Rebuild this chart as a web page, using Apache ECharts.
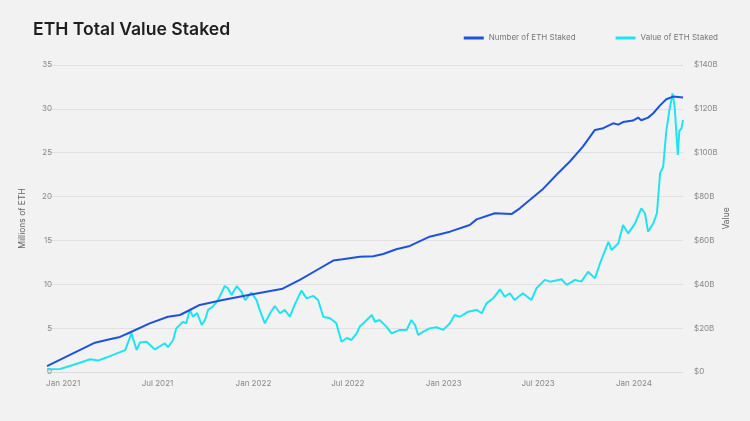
<!DOCTYPE html>
<html>
<head>
<meta charset="utf-8">
<script src="https://cdn.jsdelivr.net/npm/echarts@6/dist/echarts.min.js"></script>
<style>
html,body{margin:0;padding:0;background:#f2f2f2;}
#chart{width:750px;height:421px;}
</style>
</head>
<body>
<div id="chart"></div>
<script>
// Number of ETH staked (millions)
const stakedDates = ['2020-12-01','2021-03-03','2021-03-25','2021-04-20','2021-05-09','2021-06-16','2021-07-21','2021-08-13','2021-09-01','2021-09-20','2021-11-03','2021-12-25','2022-02-26','2022-03-31','2022-05-02','2022-06-03','2022-06-21','2022-07-24','2022-08-19','2022-09-07','2022-10-02','2022-10-28','2022-12-05','2023-01-13','2023-02-20','2023-03-05','2023-04-09','2023-05-11','2023-05-27','2023-06-15','2023-07-11','2023-08-05','2023-08-31','2023-09-25','2023-10-18','2023-11-03','2023-11-22','2023-12-02','2023-12-11','2023-12-30','2024-01-09','2024-01-15','2024-01-28','2024-02-07','2024-02-20','2024-03-03','2024-03-16','2024-04-04'];
const stakedValues = [0.68,3.34,3.65,4.0,4.5,5.55,6.3,6.5,7.07,7.65,8.2,8.8,9.5,10.5,11.6,12.7,12.85,13.15,13.2,13.45,14.0,14.37,15.43,16.0,16.76,17.4,18.1,18.0,18.66,19.6,20.9,22.46,24.0,25.7,27.6,27.8,28.35,28.2,28.5,28.66,29.0,28.7,29.0,29.5,30.4,31.1,31.4,31.3];

// Value of ETH staked (billions USD)
const valueDates = ['2020-12-01','2020-12-26','2021-01-20','2021-02-22','2021-03-09','2021-03-26','2021-04-14','2021-04-30','2021-05-12','2021-05-22','2021-05-28','2021-06-10','2021-06-26','2021-07-15','2021-07-21','2021-07-31','2021-08-06','2021-08-19','2021-08-25','2021-09-01','2021-09-07','2021-09-15','2021-09-24','2021-09-30','2021-10-06','2021-10-15','2021-10-25','2021-11-07','2021-11-13','2021-11-20','2021-11-30','2021-12-09','2021-12-16','2021-12-28','2022-01-07','2022-01-13','2022-01-23','2022-02-02','2022-02-11','2022-02-21','2022-03-02','2022-03-12','2022-03-21','2022-04-03','2022-04-13','2022-04-26','2022-05-05','2022-05-15','2022-05-28','2022-06-09','2022-06-19','2022-06-29','2022-07-08','2022-07-18','2022-07-24','2022-08-03','2022-08-16','2022-08-22','2022-08-31','2022-09-13','2022-09-23','2022-10-09','2022-10-22','2022-10-31','2022-11-07','2022-11-13','2022-11-23','2022-12-05','2022-12-18','2022-12-31','2023-01-13','2023-01-22','2023-02-01','2023-02-17','2023-03-05','2023-03-15','2023-03-24','2023-04-06','2023-04-19','2023-04-28','2023-05-08','2023-05-17','2023-06-02','2023-06-18','2023-06-28','2023-07-14','2023-07-24','2023-08-15','2023-08-25','2023-09-10','2023-09-22','2023-10-05','2023-10-18','2023-10-28','2023-11-13','2023-11-19','2023-12-02','2023-12-11','2023-12-21','2024-01-03','2024-01-15','2024-01-22','2024-01-28','2024-02-07','2024-02-14','2024-02-20','2024-02-26','2024-03-03','2024-03-09','2024-03-15','2024-03-19','2024-03-22','2024-03-25','2024-03-28','2024-04-01','2024-04-04'];
const valueValues = [1.2,1.4,3.2,5.8,5.2,6.7,8.5,10.0,17.6,10.0,13.4,13.8,10.3,13.1,11.3,14.6,19.9,22.9,22.2,28.3,25.2,26.9,21.4,23.7,28.3,29.8,32.8,39.2,38.2,35.1,39.1,36.6,32.8,36.2,32.8,28.3,22.2,26.8,30.1,26.8,28.3,25.2,30.6,37.1,33.6,34.7,32.8,25.2,24.5,22.2,13.8,15.5,14.6,17.6,20.7,22.9,26.0,22.9,23.7,20.7,17.6,19.2,19.2,23.7,21.4,16.9,18.4,19.9,20.4,19.2,22.2,26.0,25.2,27.5,28.3,26.8,31.3,33.6,37.7,34.3,35.9,32.8,35.9,32.8,38.2,42.0,41.2,42.3,39.7,42.0,41.2,45.7,42.7,49.6,59.4,55.6,58.7,67.0,63.2,67.8,74.6,72.4,64.0,67.8,72.4,90.6,93.6,110.0,119.5,127.0,121.0,110.0,99.0,110.0,111.0,115.0];

const leftTicks = [0,5,10,15,20,25,30,35];
const rightTickLabels = ['$0','$20B','$40B','$60B','$80B','$100B','$120B','$140B'];
const monthNames = ['Jan','Feb','Mar','Apr','May','Jun','Jul','Aug','Sep','Oct','Nov','Dec'];

const FONT = 'Inter, "Noto Sans", sans-serif';
const chart = echarts.init(document.getElementById('chart'), null, {renderer:'canvas'});
chart.setOption({
  backgroundColor: '#f2f2f2',
  animation: false,
  title: {
    text: 'ETH Total Value Staked',
    left: 28, top: 16,
    textStyle: {fontFamily: FONT, fontSize: 17.6, fontWeight: 600, color: '#1e1e1e'}
  },
  legend: {
    right: 27, top: 29,
    itemWidth: 20, itemHeight: 3, itemGap: 40,
    icon: 'rect',
    textStyle: {fontFamily: FONT, fontSize: 8, color: '#777'},
    data: ['Number of ETH Staked', 'Value of ETH Staked']
  },
  grid: {left: 47, right: 67, top: 65, bottom: 49},
  xAxis: {
    type: 'time',
    min: '2020-12-01',
    max: '2024-04-04',
    minInterval: 180 * 864e5,
    maxInterval: 184 * 864e5,
    axisLine: {show: true, lineStyle: {color: '#dcdcdc', width: 1}},
    axisTick: {show: false},
    splitLine: {show: false},
    axisLabel: {
      fontFamily: FONT, fontSize: 8, color: '#888', margin: 8,
      formatter: function (v) {
        const d = new Date(v);
        if (d.getDate() !== 1 || (d.getMonth() !== 0 && d.getMonth() !== 6)) return '';
        return monthNames[d.getMonth()] + ' ' + d.getFullYear();
      }
    }
  },
  yAxis: [{
    type: 'value',
    min: leftTicks[0], max: leftTicks[leftTicks.length - 1], interval: 5,
    name: 'Millions of ETH',
    nameLocation: 'middle', nameGap: 20,
    nameTextStyle: {fontFamily: FONT, fontSize: 8.5, color: '#666'},
    axisLine: {show: false}, axisTick: {show: false},
    axisLabel: {fontFamily: FONT, fontSize: 8, color: '#888', margin: -5},
    splitLine: {lineStyle: {color: '#e1e1e1', width: 1}}
  }, {
    type: 'value',
    min: 0, max: 140, interval: 20,
    name: 'Value',
    nameLocation: 'middle', nameGap: 39, nameMoveOverlap: false,
    nameTextStyle: {fontFamily: FONT, fontSize: 8.5, color: '#666'},
    axisLine: {show: false}, axisTick: {show: false},
    axisLabel: {fontFamily: FONT, fontSize: 8, color: '#888', margin: 11,
      formatter: function (v) { return rightTickLabels[Math.round(v / 20)]; }},
    splitLine: {show: false}
  }],
  series: [{
    name: 'Number of ETH Staked',
    type: 'line',
    yAxisIndex: 0,
    showSymbol: false,
    lineStyle: {color: '#1d52db', width: 2},
    itemStyle: {color: '#1d52db'},
    z: 3,
    data: stakedDates.map((d, i) => [d, stakedValues[i]])
  }, {
    name: 'Value of ETH Staked',
    type: 'line',
    yAxisIndex: 1,
    showSymbol: false,
    lineStyle: {color: '#20e3f2', width: 2},
    itemStyle: {color: '#20e3f2'},
    z: 2,
    data: valueDates.map((d, i) => [d, valueValues[i]])
  }]
});
</script>
</body>
</html>
